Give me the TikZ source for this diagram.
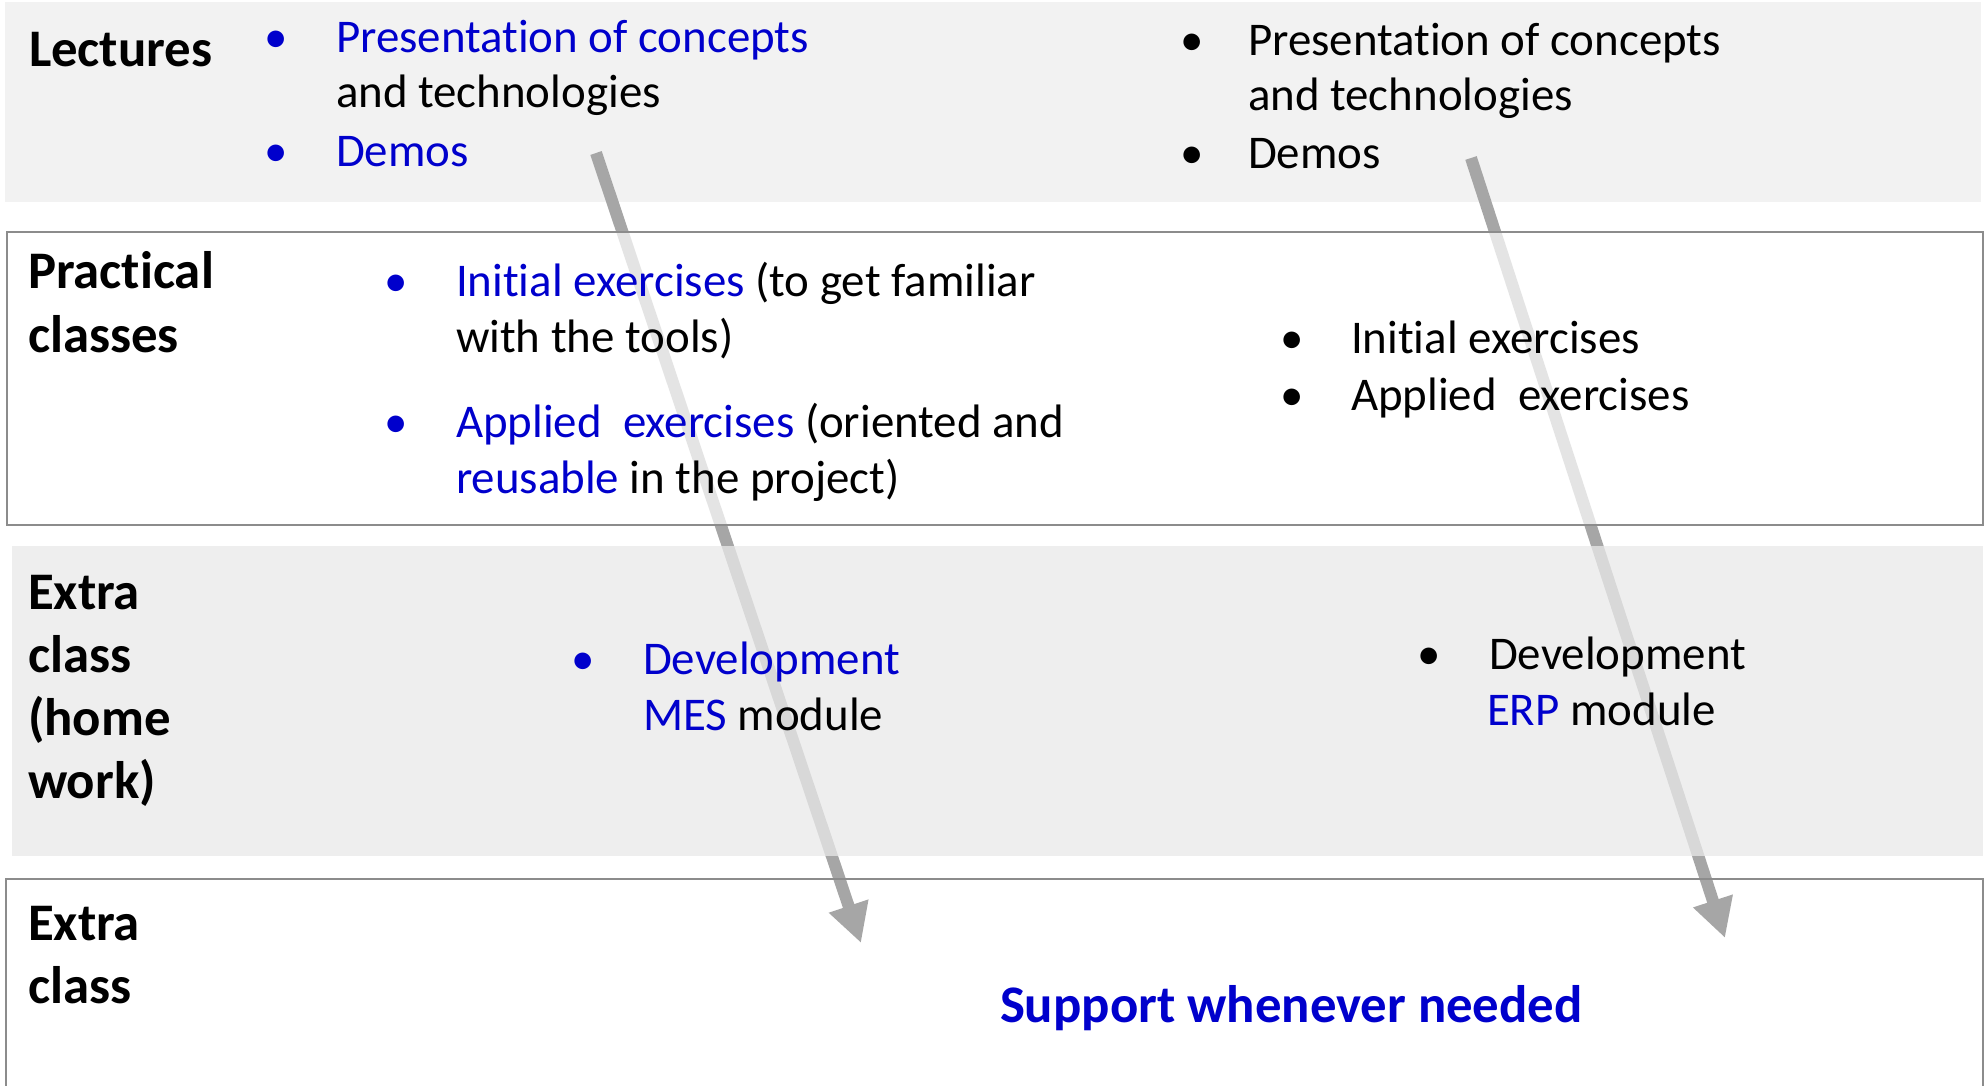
\documentclass[tikz,border=0pt]{standalone}
\usepackage{fontspec}
\setmainfont[Ligatures={CommonOff}]{Carlito}
\usetikzlibrary{arrows.meta}
\definecolor{bandA}{HTML}{F2F2F2}
\definecolor{bandC}{HTML}{E9E9E9}
\definecolor{rulegray}{HTML}{8C8C8C}
\definecolor{arrowgray}{HTML}{A6A6A6}
\definecolor{tblue}{RGB}{0,0,204}
\tikzset{
  body/.style={inner sep=0pt, outer sep=0pt, anchor=base west, font=\fontsize{23.45pt}{27pt}\selectfont},
  head/.style={inner sep=0pt, outer sep=0pt, anchor=base west, font=\fontsize{26.4pt}{30pt}\selectfont\bfseries},
  bul/.style={inner sep=0pt, outer sep=0pt, anchor=base, font=\fontsize{23.45pt}{27pt}\selectfont},
  flow/.style={draw=arrowgray, line width=6pt, -{Triangle[length=19.5pt,width=19.5pt]}},
  border/.style={draw=rulegray, line width=1.35pt},
}
\begin{document}
\begin{tikzpicture}[x=0.5pt, y=-0.5pt]
\useasboundingbox (0,0) rectangle (1986,1086);
\fill[white] (0,0) rectangle (1986,1086);
% Lectures band
\fill[bandA] (5,2) rectangle (1981,202);
% arrows
\coordinate (a1s) at (596,153);
\coordinate (a1e) at (861,943);
\coordinate (a2s) at (1471,158);
\coordinate (a2e) at (1725,938);
\draw[flow] (a1s) -- (a1e);
\draw[flow] (a2s) -- (a2e);
% Practical band
\fill[white, fill opacity=0.7] (7,232) rectangle (1983,525);
\draw[border] (7,232) rectangle (1983,525);
% Homework band
\fill[bandC, fill opacity=0.75] (12,546) rectangle (1983,856);
% Extra class band
\draw[border] (6,1095) -- (6,879) -- (1983,879) -- (1983,1095);

% Lectures
\node[head] (hLect) at (29,67) {Lectures};
\node[bul, text=tblue] (bL1) at (276,53) {•};
\node[body, text=tblue] (tL1a) at (336,53) {Presentation of concepts};
\node[body] (tL1b) at (336,108) {and technologies};
\node[bul, text=tblue] (bL2) at (276,166) {•};
\node[body, text=tblue] (tL2) at (336,166) {Demos};
\node[bul] (bR1) at (1192,56) {•};
\node[body] (tR1a) at (1248,56) {Presentation of concepts};
\node[body] (tR1b) at (1248,111) {and technologies};
\node[bul] (bR2) at (1192,169) {•};
\node[body] (tR2) at (1248,169) {Demos};

% Practical classes
\node[head] (hPr1) at (28,288) {Practical};
\node[head] (hPr2) at (28,352) {classes};
\node[bul, text=tblue] (bP1) at (396,296) {•};
\node[body] (tP1a) at (456,296) {\textcolor{tblue}{Initial exercises} (to get familiar};
\node[body] (tP1b) at (456,352) {with the tools)};
\node[bul, text=tblue] (bP2) at (396,437) {•};
\node[body] (tP2a) at (456,437) {\textcolor{tblue}{Applied~ exercises} (oriented and};
\node[body] (tP2b) at (456,493) {\textcolor{tblue}{reusable} in the project)};
\node[bul] (bQ1) at (1292,353) {•};
\node[body] (tQ1) at (1351,353) {Initial exercises};
\node[bul] (bQ2) at (1292,410) {•};
\node[body] (tQ2) at (1351,410) {Applied~ exercises};

% Extra class (home work)
\node[head] (hH1) at (28,609) {Extra};
\node[head] (hH2) at (28,672) {class};
\node[head] (hH3) at (28,735) {(home};
\node[head] (hH4) at (28,798) {work)};
\node[bul, text=tblue] (bH1) at (583,674) {•};
\node[body, text=tblue] (tH1a) at (643,674) {Development};
\node[body] (tH1b) at (643,730) {\textcolor{tblue}{MES} module};
\node[bul] (bH2) at (1429,669) {•};
\node[body] (tH2a) at (1489,669) {Development};
\node[body] (tH2b) at (1487,725) {\textcolor{tblue}{ERP} module};

% Extra class
\node[head] (hE1) at (28,940) {Extra};
\node[head] (hE2) at (28,1003) {class};
\node[head, text=tblue] (tSup) at (1000,1022) {Support whenever needed};
\end{tikzpicture}
\end{document}
